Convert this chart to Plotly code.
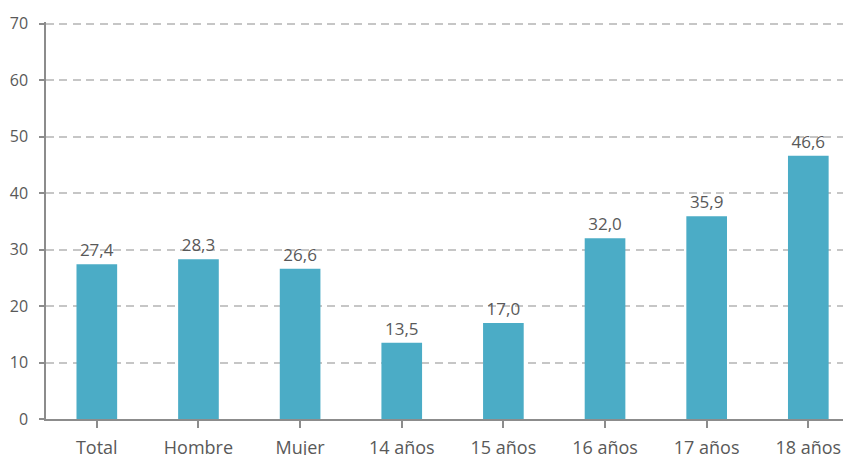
import plotly.graph_objects as go

categories = ["Total", "Hombre", "Mujer", "14 años", "15 años", "16 años", "17 años", "18 años"]
values = [27.4, 28.3, 26.6, 13.5, 17.0, 32.0, 35.9, 46.6]
labels = [f"{v:.1f}".replace(".", ",") for v in values]
y_ticks = [0, 10, 20, 30, 40, 50, 60, 70]

fig = go.Figure(go.Bar(
    x=list(range(len(categories))), y=values,
    text=labels, textposition="outside", cliponaxis=False,
    textfont=dict(family="Open Sans", size=17, color="#595959"),
    marker=dict(color="#4BACC6", line=dict(width=0)),
    width=0.4,
))

# page body has an 8px default margin, so the figure is offset by 8px
fig.update_layout(
    width=843, height=447,
    margin=dict(l=38, r=0, t=14.3, b=36, autoexpand=False),
    paper_bgcolor="white", plot_bgcolor="white",
    showlegend=False,
    font=dict(family="Open Sans", color="#595959"),
)
fig.update_xaxes(
    tickmode="array", tickvals=list(range(len(categories))), ticktext=categories,
    range=[-0.5, 7.42], automargin=False,
    showline=True, linecolor="#8c8c8c", linewidth=1.5,
    ticks="outside", ticklen=7, tickcolor="#8c8c8c", tickwidth=1.5,
    tickson="boundaries", showgrid=False,
    tickfont=dict(family="Open Sans", size=18, color="#595959"),
    ticklabelstandoff=5,
)
fig.update_yaxes(
    range=[0, 70.3], tickvals=y_ticks, automargin=False,
    showline=True, linecolor="#8c8c8c", linewidth=1.5,
    ticks="outside", ticklen=5, tickcolor="#8c8c8c", tickwidth=1.5,
    showgrid=True, gridcolor="#c6c6c6", griddash="8px,5.4px", gridwidth=1.6,
    zeroline=False,
    tickfont=dict(family="Open Sans", size=16, color="#595959"),
    ticklabelstandoff=8,
)

fig.write_html("out.html")
